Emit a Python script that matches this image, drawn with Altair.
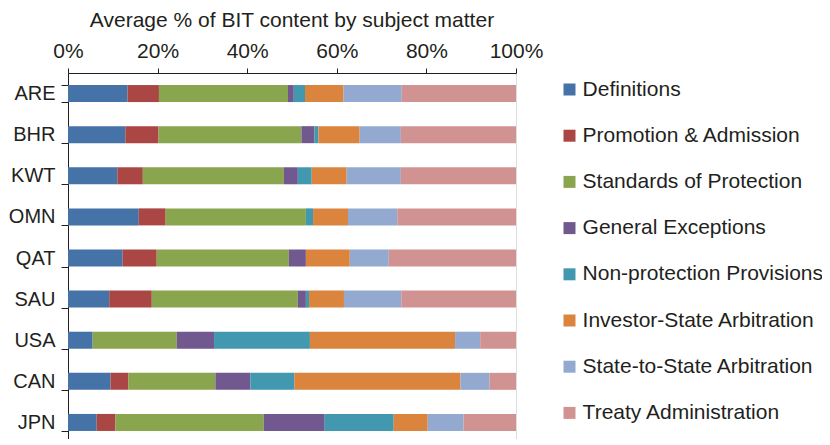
import altair as alt
import pandas as pd

countries = ["ARE", "BHR", "KWT", "OMN", "QAT", "SAU", "USA", "CAN", "JPN"]
categories = [
    "Definitions",
    "Promotion & Admission",
    "Standards of Protection",
    "General Exceptions",
    "Non-protection Provisions",
    "Investor-State Arbitration",
    "State-to-State Arbitration",
    "Treaty Administration",
]
colors = ["#4572A7", "#AA4643", "#89A54E", "#71588F", "#4198AF", "#DB843D", "#93A9CF", "#D19392"]

definitions = [13.3, 12.8, 11.0, 15.8, 12.2, 9.2, 5.5, 9.5, 6.4]
promotion = [7.0, 7.4, 5.7, 6.0, 7.6, 9.5, 0.0, 4.0, 4.2]
standards = [28.8, 31.9, 31.5, 31.3, 29.5, 32.6, 18.8, 19.4, 33.1]
general_exc = [1.3, 2.9, 3.1, 0.0, 3.8, 1.8, 8.3, 7.8, 13.6]
non_protection = [2.5, 0.9, 3.1, 1.6, 0.0, 0.7, 21.4, 9.8, 15.4]
investor_state = [8.6, 9.2, 7.8, 7.8, 9.8, 7.8, 32.4, 37.1, 7.6]
state_state = [13.0, 9.2, 12.1, 11.0, 8.7, 12.8, 5.6, 6.5, 8.0]
treaty_admin = [25.5, 25.7, 25.7, 26.5, 28.4, 25.6, 8.0, 5.9, 11.7]

series = [definitions, promotion, standards, general_exc, non_protection,
          investor_state, state_state, treaty_admin]

rows = []
for ci, (cat, vals) in enumerate(zip(categories, series)):
    for country, v in zip(countries, vals):
        rows.append({"country": country, "category": cat, "value": v, "idx": ci})
df = pd.DataFrame(rows)

FONT = "Liberation Sans"
TXT = "#231f20"

chart = alt.Chart(df).mark_bar(strokeWidth=0).encode(
    x=alt.X(
        "value:Q",
        stack="zero",
        scale=alt.Scale(domain=[0, 100], nice=False),
        axis=alt.Axis(
            orient="top", values=[0, 20, 40, 60, 80, 100],
            labelExpr="datum.value + '%'", title=None, grid=False,
            labelFlush=False, labelOverlap=False,
            tickSize=5, labelPadding=7, labelFontSize=21, labelColor=TXT,
            domainColor="#231f20", tickColor="#231f20", labelFont=FONT,
        ),
    ),
    y=alt.Y(
        "country:N",
        sort=countries,
        scale=alt.Scale(paddingInner=0.586, paddingOuter=0.293),
        axis=alt.Axis(
            title=None, tickBand="extent", tickSize=7, labelPadding=6,
            labelFontSize=20, labelColor=TXT, domainColor="#231f20",
            tickColor="#231f20", labelFont=FONT,
        ),
    ),
    color=alt.Color(
        "category:N",
        scale=alt.Scale(domain=categories, range=colors),
        legend=alt.Legend(
            orient="none", legendX=491, legendY=6, title=None,
            symbolType="square", symbolSize=144, symbolStrokeWidth=0,
            labelFontSize=21, labelColor=TXT, labelFont=FONT,
            labelOffset=2.6, rowPadding=24.2, padding=0, labelLimit=400,
        ),
    ),
    order=alt.Order("idx:Q", sort="ascending"),
).properties(
    width=448,
    height=370,
    title=alt.TitleParams(
        "Average % of BIT content by subject matter",
        fontSize=21, fontWeight="normal", anchor="middle", offset=9,
        color=TXT, font=FONT,
    ),
    autosize=alt.AutoSizeParams(type="none"),
    padding={"left": 60, "top": 65, "right": 306, "bottom": -4},
).configure_view(stroke=None).configure(font=FONT)

chart.save("out.html", embed_options={"renderer": "svg", "actions": False})
